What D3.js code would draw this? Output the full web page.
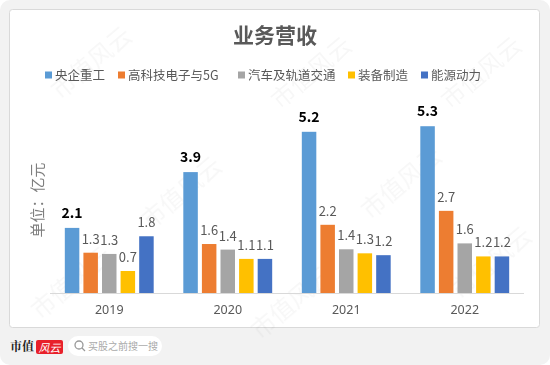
<!DOCTYPE html>
<html>
<head>
<meta charset="utf-8">
<script src="https://cdn.jsdelivr.net/npm/d3@7"></script>
<style>
  body { margin: 0; background: #fff; }
  svg { display: block; font-family: "Noto Sans CJK SC", "Noto Sans", sans-serif; }
</style>
</head>
<body>
<div id="chart"></div>
<script>
// data
const years = ['2019', '2020', '2021', '2022'];
const seriesNames = ['央企重工', '高科技电子与5G', '汽车及轨道交通', '装备制造', '能源动力'];
const seriesColors = ['#5b9bd5', '#ed7d31', '#a5a5a5', '#ffc000', '#4472c4'];
const values = {
  '央企重工': [2.1, 3.9, 5.2, 5.38],
  '高科技电子与5G': [1.3, 1.58, 2.2, 2.65],
  '汽车及轨道交通': [1.26, 1.4, 1.41, 1.6],
  '装备制造': [0.71, 1.1, 1.28, 1.18],
  '能源动力': [1.83, 1.1, 1.22, 1.18]
};
const labels = {
  '央企重工': ['2.1', '3.9', '5.2', '5.3'],
  '高科技电子与5G': ['1.3', '1.6', '2.2', '2.7'],
  '汽车及轨道交通': ['1.3', '1.4', '1.4', '1.6'],
  '装备制造': ['0.7', '1.1', '1.3', '1.2'],
  '能源动力': ['1.8', '1.1', '1.2', '1.2']
};

const W = 550, H = 365;
const svg = d3.select('#chart').append('svg').attr('width', W).attr('height', H);

// outer frame + card
svg.append('rect').attr('width', W).attr('height', H).attr('rx', 10).attr('fill', '#f2f2f2');
svg.append('rect')
    .attr('x', 9.5).attr('y', 9.5).attr('width', 530).attr('height', 318)
    .attr('rx', 3).attr('fill', '#fff').attr('stroke', '#d9d9d9');

// faint watermark
const wm = svg.append('g').attr('fill', '#000').attr('opacity', 0.035)
    .style('font-size', '24px');
[[60, 100], [280, 110], [450, 110], [150, 230], [370, 220], [40, 320], [260, 340], [460, 300]]
    .forEach(function(p) {
      wm.append('text')
          .attr('transform', 'translate(' + p[0] + ',' + p[1] + ') rotate(-40)')
          .text('市值风云');
    });

// title
svg.append('text')
    .attr('x', 275).attr('y', 43)
    .attr('text-anchor', 'middle')
    .style('font-size', '21px').style('font-weight', '700')
    .attr('fill', '#595959')
    .text('业务营收');

// legend
const legendX = [45, 118, 238, 348, 421];
const legend = svg.append('g');
seriesNames.forEach(function(name, i) {
  let item = legend.append('g').attr('transform', 'translate(' + legendX[i] + ',75)');
  item.append('rect').attr('x', 0).attr('y', -3.5).attr('width', 7).attr('height', 7)
      .attr('fill', seriesColors[i]);
  item.append('text').attr('x', 10).attr('y', 4.5)
      .style('font-size', '12.5px').attr('fill', '#595959').text(name);
});

// scales
const margin = {left: 50, right: 26, top: 107, bottom: 72};
const x0 = d3.scaleBand().domain(years).range([margin.left, W - margin.right]).paddingInner(0.25).paddingOuter(0.125);
const x1 = d3.scaleBand().domain(seriesNames).range([0, x0.bandwidth()]).paddingInner(0.22);
const y = d3.scaleLinear().domain([0, 6]).range([H - margin.bottom, margin.top]);

// bars
years.forEach(function(yr, j) {
  let g = svg.append('g').attr('transform', 'translate(' + x0(yr) + ',0)');
  seriesNames.forEach(function(name, i) {
    let v = values[name][j];
    g.append('rect')
        .attr('x', x1(name)).attr('y', y(v))
        .attr('width', x1.bandwidth()).attr('height', y(0) - y(v))
        .attr('fill', seriesColors[i]);
    g.append('text')
        .attr('x', x1(name) + x1.bandwidth() / 2)
        .attr('y', y(v) - (i === 0 ? 10 : 9))
        .attr('text-anchor', 'middle')
        .style('font-size', i === 0 ? '14px' : '13px')
        .style('font-weight', i === 0 ? '700' : '400')
        .attr('fill', i === 0 ? '#000' : '#595959')
        .text(labels[name][j]);
  });
});

// x axis
const xAxis = svg.append('g')
    .attr('transform', 'translate(0,' + y(0) + ')')
    .call(d3.axisBottom(x0).tickSize(0).tickPadding(12));
xAxis.select('.domain').attr('stroke', '#d9d9d9').attr('d', 'M' + margin.left + ',0.5H' + (W - margin.right));
xAxis.selectAll('text')
    .style('font-size', '12.5px').style('font-family', '"Noto Sans", sans-serif')
    .attr('fill', '#595959');

// y title
svg.append('text')
    .attr('transform', 'translate(43,' + 200 + ') rotate(-90)')
    .attr('text-anchor', 'middle')
    .style('font-size', '15px')
    .attr('fill', '#7f7f7f')
    .text('单位：亿元');

// footer
const footer = svg.append('g');
footer.append('text').attr('x', 10).attr('y', 351)
    .style('font-size', '12px').style('font-weight', '700')
    .style('font-family', '"Noto Serif CJK SC", "Noto Sans CJK SC", serif')
    .attr('fill', '#222').text('市值');
footer.append('rect').attr('x', 36).attr('y', 340).attr('width', 27).attr('height', 14)
    .attr('rx', 2).attr('fill', '#e8202a');
footer.append('text').attr('x', 49.5).attr('y', 351.5).attr('text-anchor', 'middle')
    .style('font-size', '11px').style('font-style', 'italic').attr('fill', '#fff').text('风云');
footer.append('rect').attr('x', 68).attr('y', 336).attr('width', 94).attr('height', 20)
    .attr('rx', 10).attr('fill', '#fff');
footer.append('circle').attr('cx', 79).attr('cy', 345).attr('r', 4)
    .attr('fill', 'none').attr('stroke', '#999').attr('stroke-width', 1.3);
footer.append('line').attr('x1', 82).attr('y1', 348).attr('x2', 85).attr('y2', 351)
    .attr('stroke', '#999').attr('stroke-width', 1.3);
footer.append('text').attr('x', 88).attr('y', 350)
    .style('font-size', '10px').attr('fill', '#aaa').text('买股之前搜一搜');
</script>
</body>
</html>
